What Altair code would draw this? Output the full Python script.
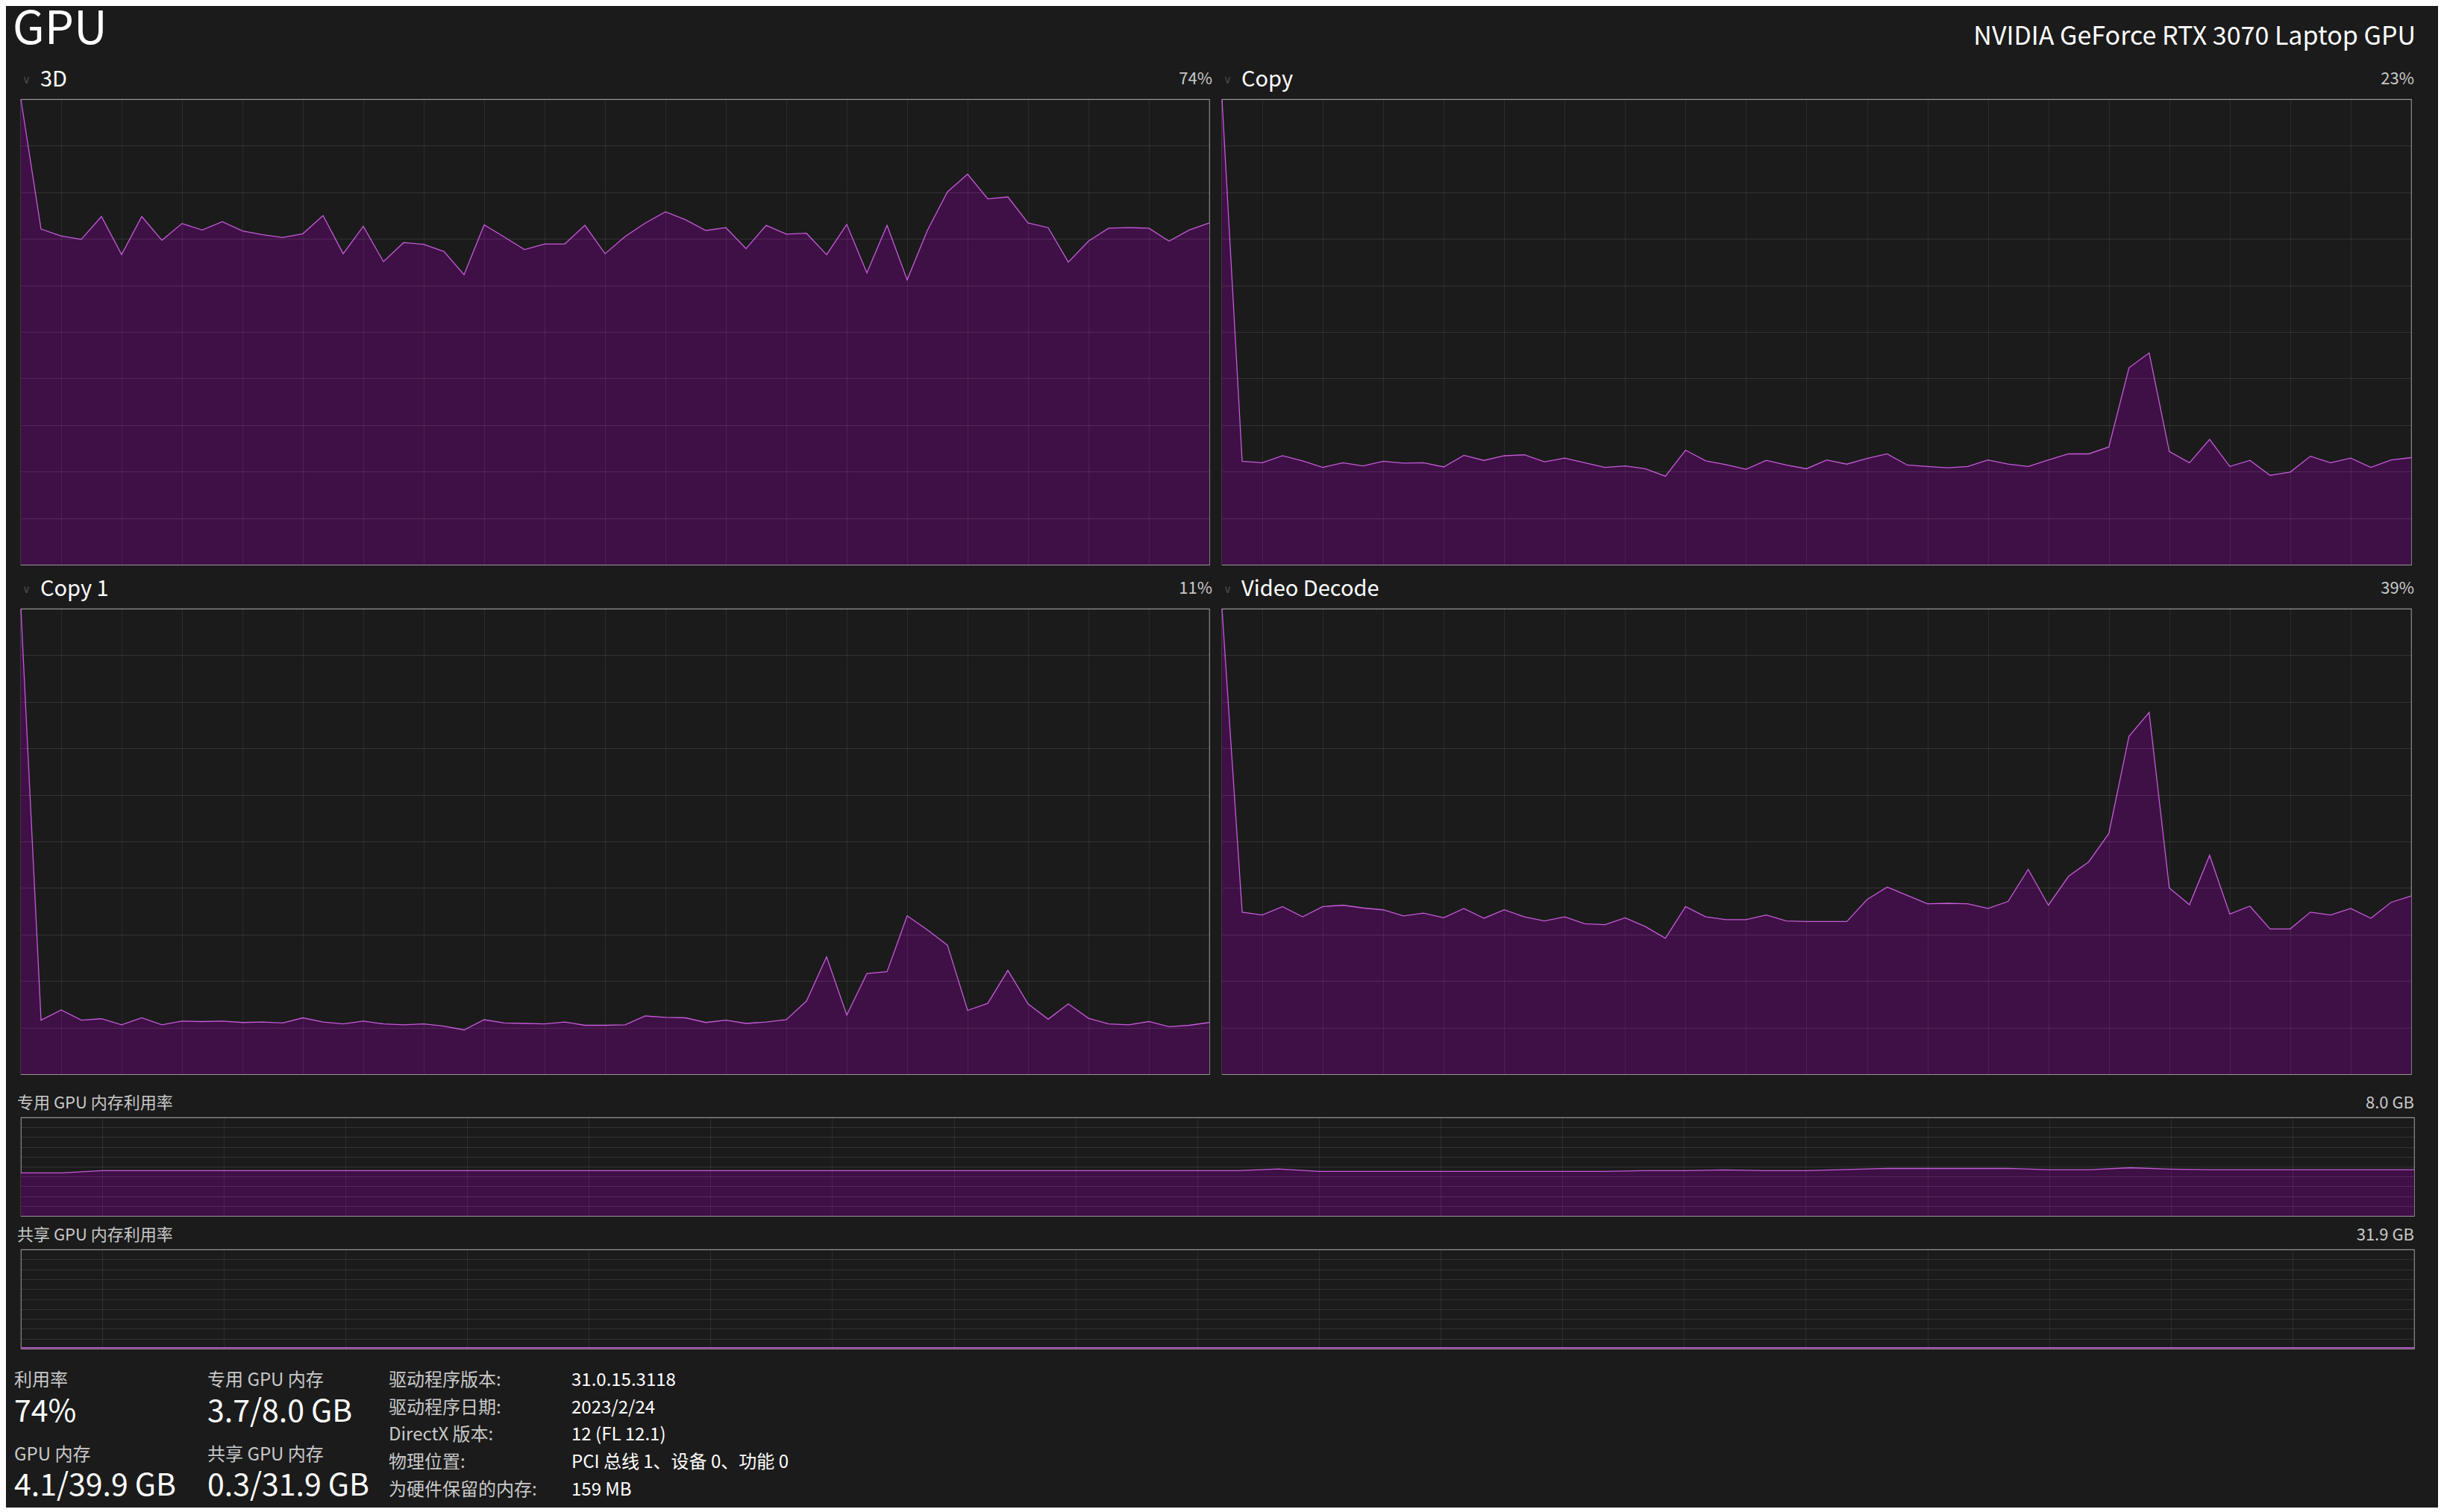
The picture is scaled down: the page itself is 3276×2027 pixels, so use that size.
import altair as alt
import pandas as pd

# ---------------- data ----------------
t_idx = list(range(60))

gpu_3d = [100.0, 72.1, 70.6, 69.9, 74.8, 66.6, 74.8, 69.7, 73.3, 71.9,
          73.7, 71.7, 70.9, 70.3, 71.1, 75.0, 66.8, 72.7, 65.1, 69.2,
          68.8, 67.3, 62.3, 73.0, 70.4, 67.7, 68.9, 68.9, 72.9, 66.8,
          70.5, 73.4, 75.8, 74.1, 71.8, 72.4, 67.9, 72.9, 71.0, 71.2,
          66.6, 73.1, 62.7, 72.9, 61.2, 71.8, 80.1, 83.9, 78.6, 79.0,
          73.4, 72.4, 65.0, 69.5, 72.3, 72.4, 72.3, 69.5, 71.9, 73.4]

copy_vals = [100.0, 22.2, 21.9, 23.4, 22.3, 20.9, 21.9, 21.2, 22.2, 21.8,
             21.9, 21.0, 23.5, 22.4, 23.4, 23.6, 22.1, 22.9, 21.9, 20.9,
             21.2, 20.6, 19.0, 24.6, 22.3, 21.5, 20.5, 22.4, 21.4, 20.6,
             22.5, 21.6, 22.8, 23.8, 21.4, 21.1, 20.8, 21.1, 22.5, 21.6,
             21.1, 22.5, 23.8, 23.8, 25.3, 42.3, 45.5, 24.3, 21.9, 26.9,
             21.1, 22.4, 19.2, 19.9, 23.3, 21.9, 22.9, 20.9, 22.5, 23.0]

copy1_vals = [100.0, 11.6, 13.8, 11.6, 11.9, 10.6, 12.1, 10.6, 11.4, 11.3,
              11.4, 11.1, 11.2, 11.0, 12.1, 11.2, 10.8, 11.4, 10.8, 10.6,
              10.8, 10.3, 9.5, 11.7, 11.0, 10.9, 10.8, 11.2, 10.5, 10.5,
              10.6, 12.5, 12.2, 12.1, 11.1, 11.6, 10.9, 11.2, 11.7, 15.7,
              25.2, 12.7, 21.6, 22.0, 34.0, 31.0, 27.7, 13.7, 15.2, 22.3,
              15.1, 11.8, 15.1, 12.0, 10.8, 10.6, 11.3, 10.2, 10.5, 11.1]

vdecode_vals = [100.0, 34.8, 34.2, 36.0, 33.8, 36.0, 36.3, 35.7, 35.3, 34.0,
                34.6, 33.6, 35.6, 33.5, 35.3, 33.8, 32.9, 33.8, 32.3, 32.1,
                33.6, 31.7, 29.2, 36.0, 33.8, 33.2, 33.2, 34.2, 32.9, 32.8,
                32.8, 32.8, 37.5, 40.2, 38.4, 36.6, 36.7, 36.6, 35.6, 37.1,
                44.0, 36.3, 42.5, 45.6, 51.7, 72.6, 77.7, 40.0, 36.4, 47.0,
                34.4, 36.1, 31.2, 31.2, 34.8, 34.2, 35.6, 33.5, 36.9, 38.3]

ded_mem = [3.49, 3.49, 3.67, 3.67, 3.67, 3.67, 3.67, 3.67, 3.67, 3.67,
           3.67, 3.67, 3.67, 3.67, 3.67, 3.67, 3.67, 3.67, 3.67, 3.67,
           3.67, 3.67, 3.67, 3.67, 3.67, 3.67, 3.67, 3.67, 3.67, 3.67,
           3.67, 3.81, 3.61, 3.61, 3.61, 3.61, 3.61, 3.61, 3.61, 3.61,
           3.67, 3.67, 3.73, 3.67, 3.67, 3.77, 3.85, 3.85, 3.85, 3.85,
           3.75, 3.75, 3.91, 3.80, 3.75, 3.75, 3.75, 3.75, 3.75, 3.75]

shared_mem = [0.3, 0.3, 0.3, 0.3, 0.3, 0.3, 0.3, 0.3, 0.3, 0.3,
              0.3, 0.3, 0.3, 0.3, 0.3, 0.3, 0.3, 0.3, 0.3, 0.3,
              0.3, 0.3, 0.3, 0.3, 0.3, 0.3, 0.3, 0.3, 0.3, 0.3,
              0.3, 0.3, 0.3, 0.3, 0.3, 0.3, 0.3, 0.3, 0.3, 0.3,
              0.3, 0.3, 0.3, 0.3, 0.3, 0.3, 0.3, 0.3, 0.3, 0.3,
              0.3, 0.3, 0.3, 0.3, 0.3, 0.3, 0.3, 0.3, 0.3, 0.3]

page_title = "GPU"
device_name = "NVIDIA GeForce RTX 3070 Laptop GPU"
engine_names = ["3D", "Copy", "Copy 1", "Video Decode"]
engine_pct = ["74%", "23%", "11%", "39%"]
mem_names = ["专用 GPU 内存利用率", "共享 GPU 内存利用率"]
mem_caps = ["8.0 GB", "31.9 GB"]
mem_max = [8.0, 31.9]

stat_labels = ["利用率", "专用 GPU 内存", "GPU 内存", "共享 GPU 内存"]
stat_values = ["74%", "3.7/8.0 GB", "4.1/39.9 GB", "0.3/31.9 GB"]
info_labels = ["驱动程序版本:", "驱动程序日期:", "DirectX 版本:", "物理位置:", "为硬件保留的内存:"]
info_values = ["31.0.15.3118", "2023/2/24", "12 (FL 12.1)", "PCI 总线 1、设备 0、功能 0", "159 MB"]

grid_x = [2, 5, 8, 11, 14, 17, 20, 23, 26, 29, 32, 35, 38, 41, 44, 47, 50, 53, 56]
grid_steps = [0, 1, 2, 3, 4, 5, 6, 7, 8, 9, 10]

# ---------------- style ----------------
FONT = "Noto Sans CJK SC"
BG = "#1b1b1b"
FILL = "#3f1045"
LINE = "#c35bd8"
WHITE = "#ffffff"
GREY = "#c8c8c8"


def txt(s, x, y, size, color, align="left", font=FONT):
    return alt.Chart(pd.DataFrame({"s": [s]})).mark_text(
        align=align, baseline="alphabetic", fontSize=size, color=color, font=font
    ).encode(x=alt.value(x), y=alt.value(y), text="s:N")


def anchor(x, y):
    # invisible 1px box that fixes the layout extent of a panel
    return alt.Chart(pd.DataFrame({"a": [0]})).mark_rect(opacity=0).encode(
        x=alt.value(x), x2=alt.value(x + 1), y=alt.value(y), y2=alt.value(y + 1)
    )


def panel(vals, ymax, w, h, extra):
    df = pd.DataFrame({"t": t_idx, "v": vals})
    yticks = [round(ymax * s / 10, 4) for s in grid_steps]
    base = alt.Chart(df).mark_area(
        color=FILL, opacity=1,
        line=alt.OverlayMarkDef(color=LINE, strokeWidth=1.3),
    ).encode(
        x=alt.X("t:Q", scale=alt.Scale(domain=[0, 59], nice=False, zero=False),
                axis=alt.Axis(values=grid_x, grid=True, labels=False, ticks=False,
                              domain=False, title=None, gridColor=WHITE,
                              gridOpacity=0.07, gridWidth=1, zindex=1)),
        y=alt.Y("v:Q", scale=alt.Scale(domain=[0, ymax], nice=False),
                axis=alt.Axis(values=yticks, grid=True, labels=False, ticks=False,
                              domain=False, title=None, gridColor=WHITE,
                              gridOpacity=0.1, gridWidth=1, zindex=1)),
    )
    return alt.layer(base, *extra).properties(width=w, height=h)


def engine_labels(i, w):
    return [
        txt("∨", 7.5, -21, 15, "#4a4a4a", align="center", font="DejaVu Sans"),
        txt(engine_names[i], 26, -17, 29, WHITE),
        txt(engine_pct[i], w + 4, -20, 22, GREY, align="right"),
    ]


W1, W2, H = 1593, 1594, 624
MW, MH = 3208, 132

p3d = panel(gpu_3d, 100, W1, H,
            [anchor(-19, -124), txt(page_title, -11, -74, 62, WHITE)] + engine_labels(0, W1))
pcopy = panel(copy_vals, 100, W2, H,
              [anchor(1628, 0), txt(device_name, 1600, -73, 34, WHITE, align="right")]
              + engine_labels(1, W2))
pcopy1 = panel(copy1_vals, 100, W1, H, [anchor(0, -56.5)] + engine_labels(2, W1))
pvd = panel(vdecode_vals, 100, W2, H, engine_labels(3, W2))

pded = panel(ded_mem, mem_max[0], MW, MH, [
    anchor(0, -55.5),
    txt(mem_names[0], -5, -12, 22, GREY),
    txt(mem_caps[0], MW, -12, 22, GREY, align="right"),
])

footer = [
    anchor(0, -43),
    anchor(0, 344),
    txt(mem_names[1], -5, -12, 22, GREY),
    txt(mem_caps[1], MW, -12, 22, GREY, align="right"),
    txt(stat_labels[0], -9, 183, 24, GREY),
    txt(stat_values[0], -9, 231, 41, WHITE),
    txt(stat_labels[1], 250, 183, 24, GREY),
    txt(stat_values[1], 250, 231, 41, WHITE),
    txt(stat_labels[2], -9, 283, 24, GREY),
    txt(stat_values[2], -9, 330, 41, WHITE),
    txt(stat_labels[3], 250, 283, 24, GREY),
    txt(stat_values[3], 250, 330, 41, WHITE),
]
row_y = [183, 220, 256, 293, 330]
for lab, val, yy in zip(info_labels, info_values, row_y):
    footer.append(txt(lab, 493, yy, 24, GREY))
    footer.append(txt(val, 738, yy, 24, WHITE))

pshared = panel(shared_mem, mem_max[1], MW, 133, footer)

row1 = alt.hconcat(p3d, pcopy, spacing=17, bounds="flush")
row2 = alt.hconcat(pcopy1, pvd, spacing=17, bounds="flush")

chart = alt.vconcat(row1, row2, pded, pshared, spacing=0).properties(
    padding=0, background=BG
).configure_view(
    stroke="#8a8a8a", strokeWidth=1.2
).configure_axis(
    minExtent=0
)

chart.save("out.html", embed_options={"renderer": "svg", "actions": False})
